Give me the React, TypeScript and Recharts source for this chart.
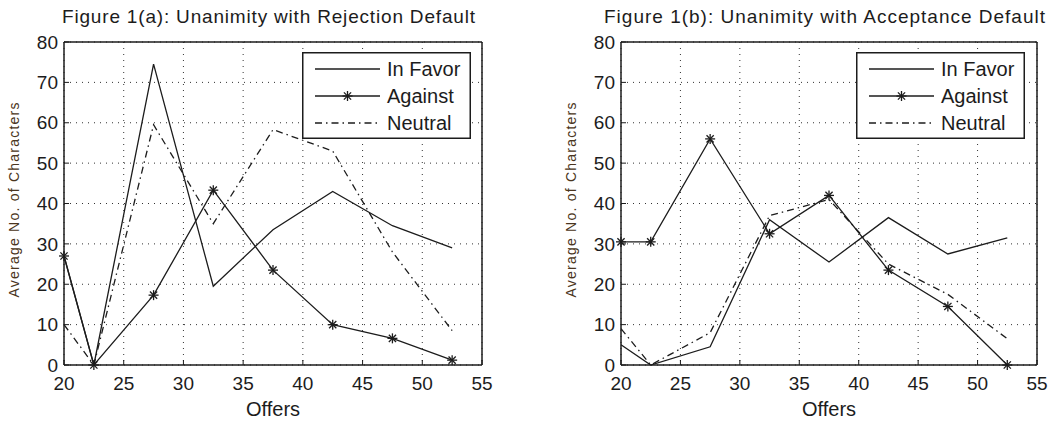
import React from "react";
import { LineChart, Line, XAxis, YAxis, CartesianGrid, Legend, Label } from "recharts";

// offers (x) and tick values
const offers = [20, 22.5, 27.5, 32.5, 37.5, 42.5, 47.5, 52.5];
const xTicks = [20, 25, 30, 35, 40, 45, 50, 55];
const yTicks = [0, 10, 20, 30, 40, 50, 60, 70, 80];

// Figure 1(a): rejection default
const rejInFavor = [27, 0, 74.5, 19.5, 33.5, 43, 34.5, 29];
const rejAgainst = [27, 0, 17.3, 43.3, 23.5, 10, 6.6, 1.2];
const rejNeutral = [10, 0, 59.5, 35, 58.3, 53, 28, 8.5];

// Figure 1(b): acceptance default
const accInFavor = [5, 0, 4.5, 36, 25.5, 36.5, 27.5, 31.5];
const accAgainst = [30.5, 30.5, 56, 32.5, 42, 23.5, 14.5, 0];
const accNeutral = [9, 0, 8, 37, 41, 25, 17.5, 6.5];

const seriesNames = ["In Favor", "Against", "Neutral"];
const titles = [
  "Figure 1(a): Unanimity with Rejection Default",
  "Figure 1(b): Unanimity with Acceptance Default",
];

const FONT = "'Liberation Sans', Arial, sans-serif";
const INK = "#1c1c1c";
const NEUTRAL_DASH = "7 4 1.5 4";

const buildRows = (inFavor: number[], against: number[], neutral: number[]) =>
  offers.map((offer, i) => ({ offer, inFavor: inFavor[i], against: against[i], neutral: neutral[i] }));

const rejRows = buildRows(rejInFavor, rejAgainst, rejNeutral);
const accRows = buildRows(accInFavor, accAgainst, accNeutral);

// matlab-ish '*' marker
const Star = ({ cx, cy, r = 5 }: any) => {
  if (cx == null || cy == null) return null;
  const d = r * 0.72;
  return (
    <g stroke={INK} strokeWidth={1.3}>
      <line x1={cx - r} y1={cy} x2={cx + r} y2={cy} />
      <line x1={cx} y1={cy - r} x2={cx} y2={cy + r} />
      <line x1={cx - d} y1={cy - d} x2={cx + d} y2={cy + d} />
      <line x1={cx - d} y1={cy + d} x2={cx + d} y2={cy - d} />
    </g>
  );
};

const LegendBox = () => {
  const rows = [17, 44, 71];
  return (
    <svg width={169} height={87} style={{ display: "block" }}>
      <rect x={0.75} y={0.75} width={167.5} height={85.5} fill="#fff" stroke={INK} strokeWidth={1.5} />
      {seriesNames.map((name, i) => (
        <g key={name}>
          <line
            x1={13}
            x2={78}
            y1={rows[i]}
            y2={rows[i]}
            stroke={INK}
            strokeWidth={1.4}
            strokeDasharray={i === 2 ? NEUTRAL_DASH : undefined}
          />
          {i === 1 && <Star cx={45.5} cy={rows[i]} />}
          <text x={85} y={rows[i] + 7} fontSize={20} fontFamily={FONT} fill={INK}>
            {name}
          </text>
        </g>
      ))}
    </svg>
  );
};

interface PanelProps {
  rows: any[];
  title: string;
  width: number;
  margin: { top: number; right: number; bottom: number; left: number };
  legendLeft: number;
  titleWidth: number;
}

function Panel({ rows, title, width, margin, legendLeft, titleWidth }: PanelProps) {
  const tickStyle = { fontSize: 19, fontFamily: FONT, fill: INK };
  return (
    <LineChart width={width} height={421} data={rows} margin={margin}>
      <CartesianGrid stroke="#333" strokeDasharray="1 5" strokeWidth={1} />
      <XAxis
        dataKey="offer"
        type="number"
        domain={[20, 55]}
        ticks={xTicks}
        height={30}
        tick={tickStyle}
        tickSize={-5}
        tickMargin={17}
        axisLine={{ stroke: INK, strokeWidth: 1.5 }}
        tickLine={{ stroke: INK }}
      >
        <Label
          content={({ viewBox }: any) => (
            <text
              x={viewBox.x + viewBox.width / 2}
              y={viewBox.y + 51}
              textAnchor="middle"
              fontSize={20}
              fontFamily={FONT}
              fill={INK}
            >
              Offers
            </text>
          )}
        />
      </XAxis>
      <XAxis
        xAxisId="top"
        dataKey="offer"
        orientation="top"
        type="number"
        domain={[20, 55]}
        ticks={xTicks}
        height={1}
        tick={false}
        tickSize={-5}
        axisLine={{ stroke: INK, strokeWidth: 1.5 }}
        tickLine={{ stroke: INK }}
      >
        <Label
          content={({ viewBox }: any) => (
            <text
              x={viewBox.x + viewBox.width / 2 - 4.5}
              y={viewBox.y + viewBox.height - 19}
              textAnchor="middle"
              fontSize={19}
              fontFamily={FONT}
              fill={INK}
              textLength={titleWidth}
              lengthAdjust="spacing"
            >
              {title}
            </text>
          )}
        />
      </XAxis>
      <YAxis
        type="number"
        domain={[0, 80]}
        ticks={yTicks}
        width={40}
        tick={tickStyle}
        tickSize={-5}
        tickMargin={11}
        axisLine={{ stroke: INK, strokeWidth: 1.5 }}
        tickLine={{ stroke: INK }}
      >
        <Label
          content={({ viewBox }: any) => {
            const x = viewBox.x + viewBox.width - 50;
            const y = 200;
            return (
              <text
                x={x}
                y={y}
                transform={`rotate(-90 ${x} ${y})`}
                textAnchor="middle"
                dominantBaseline="central"
                fontSize={14}
                fontFamily={FONT}
                fill="#4a3520"
                textLength={195}
                lengthAdjust="spacing"
              >
                Average No. of Characters
              </text>
            );
          }}
        />
      </YAxis>
      <YAxis
        yAxisId="right"
        orientation="right"
        type="number"
        domain={[0, 80]}
        ticks={yTicks}
        width={1}
        tick={false}
        tickSize={-5}
        axisLine={{ stroke: INK, strokeWidth: 1.5 }}
        tickLine={{ stroke: INK }}
      />
      <Legend
        layout="horizontal"
        verticalAlign="middle"
        align="center"
        content={() => <LegendBox />}
        wrapperStyle={{ left: legendLeft, top: 52, width: 169, height: 87 }}
      />
      <Line
        dataKey="inFavor"
        name={seriesNames[0]}
        stroke={INK}
        strokeWidth={1.3}
        dot={false}
        isAnimationActive={false}
      />
      <Line
        dataKey="against"
        name={seriesNames[1]}
        stroke={INK}
        strokeWidth={1.3}
        dot={(p: any) => <Star key={`s-${p.index}`} cx={p.cx} cy={p.cy} />}
        isAnimationActive={false}
      />
      <Line
        dataKey="neutral"
        name={seriesNames[2]}
        stroke={INK}
        strokeWidth={1.3}
        strokeDasharray={NEUTRAL_DASH}
        dot={false}
        isAnimationActive={false}
      />
    </LineChart>
  );
}

export default function App() {
  return (
    <div
      style={{
        position: "absolute",
        left: 0,
        top: 0,
        width: 1063,
        height: 421,
        background: "#fff",
        overflow: "hidden",
      }}
    >
      <div style={{ position: "absolute", left: 0, top: 0 }}>
        <Panel
          rows={rejRows}
          title={titles[0]}
          width={530}
          margin={{ top: 41, right: 47, bottom: 26, left: 24 }}
          legendLeft={302}
          titleWidth={413}
        />
      </div>
      <div style={{ position: "absolute", left: 530, top: 0 }}>
        <Panel
          rows={accRows}
          title={titles[1]}
          width={533}
          margin={{ top: 41, right: 25, bottom: 26, left: 51 }}
          legendLeft={326}
          titleWidth={441}
        />
      </div>
    </div>
  );
}
